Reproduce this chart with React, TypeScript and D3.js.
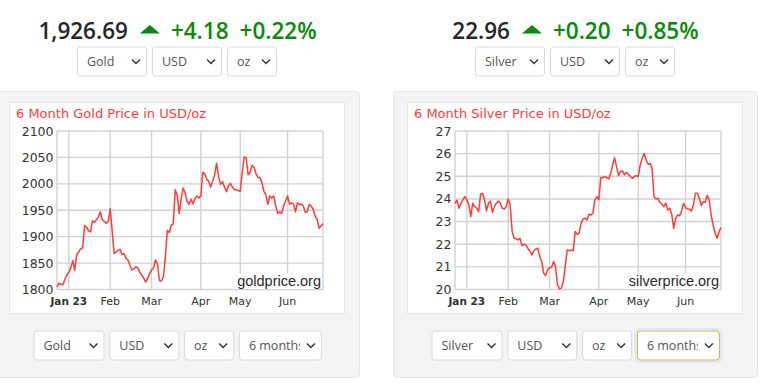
import React, { useLayoutEffect, useRef, useState } from "react";
import * as d3 from "d3";

// daily closes, Dec 22 -> late Jun (trading days)
const goldPrices = [
  1805, 1812, 1810, 1809, 1819, 1827, 1833, 1841, 1855, 1836,
  1866, 1871, 1877, 1879, 1921, 1918, 1911, 1909, 1930, 1927,
  1932, 1937, 1947, 1932, 1929, 1925, 1929, 1953, 1911, 1868,
  1871, 1874, 1876, 1866, 1868, 1859, 1856, 1846, 1837, 1839,
  1843, 1841, 1833, 1827, 1822, 1814, 1821, 1830, 1837, 1841,
  1856, 1848, 1817, 1816, 1824, 1861, 1912, 1908, 1922, 1924,
  1989, 1979, 1944, 1971, 1992, 1983, 1967, 1961, 1971, 1962,
  1972, 1977, 1973, 1977, 2022, 2019, 2008, 2005, 1994, 2005,
  2017, 2039, 2014, 1999, 2004, 1994, 1985, 1996, 2001, 1994,
  1989, 1989, 1987, 1986, 2021, 2051, 2049, 2017, 2022, 2035,
  2031, 2019, 2012, 2012, 2002, 1986, 1979, 1961, 1977, 1973,
  1977, 1958, 1944, 1947, 1944, 1958, 1967, 1977, 1961, 1964,
  1962, 1947, 1964, 1961, 1962, 1958, 1946, 1947, 1961, 1958,
  1952, 1939, 1933, 1916, 1920, 1925,
];

const silverPrices = [
  23.81, 23.94, 23.59, 23.81, 23.96, 24.1, 23.96, 23.74, 23.22, 23.81,
  23.66, 23.59, 23.44, 24.21, 24.25, 23.96, 23.47, 23.81, 23.91, 23.41,
  23.66, 23.81, 23.91, 23.81, 23.59, 23.56, 23.66, 24.0, 23.74, 22.56,
  22.26, 22.24, 22.19, 22.26, 21.94, 22.0, 21.97, 21.82, 21.68, 21.53,
  21.71, 21.79, 21.82, 21.46, 21.24, 20.72, 20.62, 20.87, 20.97, 20.97,
  21.24, 21.01, 20.21, 20.03, 20.06, 20.35, 21.09, 21.75, 21.71, 21.75,
  21.71, 22.56, 22.44, 22.49, 22.93, 23.12, 23.15, 23.07, 23.32, 23.29,
  23.37, 23.96, 24.1, 23.96, 24.94, 24.94, 24.99, 24.94, 24.88, 25.13,
  25.5, 25.82, 25.43, 25.03, 25.21, 25.24, 25.06, 25.18, 25.09, 24.99,
  24.91, 24.99, 25.03, 24.99, 25.5, 25.79, 26.01, 25.72, 25.53, 25.57,
  25.35, 24.1, 24.0, 24.03, 23.85, 23.76, 23.66, 23.81, 23.51, 23.59,
  23.32, 22.71, 23.15, 23.29, 23.26, 23.47, 23.81, 23.62, 23.56, 23.56,
  23.47, 23.74, 24.25, 24.25, 24.03, 23.71, 23.88, 23.85, 24.15, 23.96,
  23.29, 22.85, 22.49, 22.26, 22.56, 22.74,
];

const monthLabels = ["Jan 23", "Feb", "Mar", "Apr", "May", "Jun"];
const monthIdx = [6, 27, 48, 73, 93, 117];

const goldTicks = [1800, 1850, 1900, 1950, 2000, 2050, 2100];
const silverTicks = [20, 21, 22, 23, 24, 25, 26, 27];

const goldQuote = ["1,926.69", "+4.18", "+0.22%"];
const silverQuote = ["22.96", "+0.20", "+0.85%"];

const goldMenus = ["Gold", "USD", "oz"];
const silverMenus = ["Silver", "USD", "oz"];
const periodLabel = "6 months";

const RED = "#ff3b3b";
const GREEN = "#0a8a0a";
const GRID = "#d2d2d2";
const OPEN = "'Open Sans', 'Noto Sans', sans-serif";
const DEJAVU = "'DejaVu Sans', Verdana, sans-serif";
const ARIAL = "'Liberation Sans', Arial, sans-serif";

function Select({ x, y, w, label, focus = false, clipId }) {
  const h = 30;
  const cx = x + w - 11;
  const cy = y + h / 2;
  return (
    <g>
      {focus && (
        <rect x={x - 1.5} y={y - 1.5} width={w + 3} height={h + 3} rx={4.5}
          fill="none" stroke="#dce8f6" strokeWidth={2} />
      )}
      <rect x={x + 0.5} y={y + 0.5} width={w - 1} height={h - 1} rx={3}
        fill="#fff" stroke={focus ? "#cfae55" : "#dadada"} />
      <clipPath id={clipId}>
        <rect x={x} y={y} width={w - 22} height={h} />
      </clipPath>
      <text x={x + 10} y={y + 19.5} fontFamily={OPEN} fontSize={12.5} fill="#555"
        clipPath={`url(#${clipId})`}>{label}</text>
      <path d={`M${cx - 4},${cy - 2} L${cx},${cy + 2} L${cx + 4},${cy - 2}`}
        fill="none" stroke="#333" strokeWidth={1.4} />
    </g>
  );
}

function Quote({ cx, values }) {
  const r0 = useRef(null);
  const r1 = useRef(null);
  const r2 = useRef(null);
  const [w, setW] = useState([87, 57, 77]);
  useLayoutEffect(() => {
    const len = r => (r.current ? r.current.getComputedTextLength() : 0);
    setW([len(r0), len(r1), len(r2)]);
  }, []);
  const total = w[0] + 12 + 20 + 11 + w[1] + 11 + w[2];
  const x0 = cx - total / 2;
  const tx = x0 + w[0] + 12;
  const x1 = tx + 20 + 11;
  const x2 = x1 + w[1] + 11;
  const base = 39;
  const style = { fontFamily: OPEN, fontSize: 22.5, fontWeight: 600 };
  return (
    <g>
      <text ref={r0} x={x0} y={base} fill="#262626" style={style}>{values[0]}</text>
      <path d={`M${tx},33.5 L${tx + 20},33.5 L${tx + 10},25 Z`} fill={GREEN} />
      <text ref={r1} x={x1} y={base} fill={GREEN} style={style}>{values[1]}</text>
      <text ref={r2} x={x2} y={base} fill={GREEN} style={style}>{values[2]}</text>
    </g>
  );
}

function Watermark({ right, bottom, label }) {
  const ref = useRef(null);
  const [w, setW] = useState(84);
  useLayoutEffect(() => {
    if (ref.current) setW(ref.current.getComputedTextLength());
  }, []);
  return (
    <g>
      <rect x={right - w - 2} y={bottom - 16} width={w + 2} height={15.5} fill="#fff" />
      <text ref={ref} x={right} y={bottom - 4} textAnchor="end"
        fontFamily={ARIAL} fontSize={14.5} fill="#2b2b2b">{label}</text>
    </g>
  );
}

function PricePanel({ ox, quote, menus, title, data, ticks, site, focusPeriod, id }) {
  const left = ox + 57, right = ox + 323, top = 131, bottom = 289.5;

  const x = d3.scaleLinear().domain([0, data.length - 1]).range([left, right]);
  const y = d3.scaleLinear().domain(d3.extent(ticks)).range([bottom, top]);
  const line = d3.line().x((d, i) => x(i)).y(d => y(d));

  const topW = [70, 70, 50];
  const botW = [71, 70, 50, 83];
  const topX = ox + 77;
  const botX = ox + 33.5;

  return (
    <g>
      <rect x={ox - 4.5} y={91.5} width={364} height={286} rx={4}
        fill="#f4f4f4" stroke="#e5e5e5" />
      <Quote cx={ox + 177.5} values={quote} />
      {menus.map((m, i) => (
        <Select key={m} x={topX + d3.sum(topW.slice(0, i)) + i * 5} y={46.5}
          w={topW[i]} label={m} clipId={`${id}-t${i}`} />
      ))}

      <rect x={ox + 9.5} y={102.5} width={335} height={211} fill="#fff" stroke="#e6e6e6" />
      <text x={ox + 16} y={118} fontFamily={DEJAVU} fontSize={13} fill={RED}>{title}</text>

      {ticks.map(t => (
        <line key={t} x1={left} x2={right} y1={y(t)} y2={y(t)} stroke={GRID} strokeWidth={1.4} />
      ))}
      {monthIdx.map(i => (
        <line key={i} x1={x(i)} x2={x(i)} y1={top} y2={bottom} stroke={GRID} strokeWidth={1.4} />
      ))}
      <line x1={left} x2={left} y1={top} y2={bottom} stroke={GRID} strokeWidth={1.4} />
      <line x1={right} x2={right} y1={top} y2={bottom} stroke={GRID} strokeWidth={1.4} />

      <Watermark right={right - 2} bottom={bottom} label={site} />

      <path d={line(data)} fill="none" stroke={RED} strokeWidth={1.5} strokeLinejoin="round" />

      {ticks.map(t => (
        <text key={t} x={left - 3.5} y={y(t)} dy="0.36em" textAnchor="end"
          fontFamily={DEJAVU} fontSize={12.5} fill="#333">{t}</text>
      ))}
      {monthLabels.map((m, i) => (
        <text key={m} x={x(monthIdx[i])} y={305} textAnchor="middle" fontFamily={DEJAVU}
          fontSize={i === 0 ? 10.5 : 11} fontWeight={i === 0 ? "bold" : "normal"}
          fill="#333">{m}</text>
      ))}

      {[...menus, periodLabel].map((m, i) => (
        <Select key={m} x={botX + d3.sum(botW.slice(0, i)) + i * 4.8} y={330.5}
          w={botW[i]} label={m} focus={focusPeriod && i === 3} clipId={`${id}-b${i}`} />
      ))}
    </g>
  );
}

export default function App() {
  const width = 760;
  const height = 385;
  return (
    <svg width={width} height={height}
      style={{ position: "absolute", left: 0, top: 0, background: "#fff" }}>
      <PricePanel ox={0} id="gold" quote={goldQuote} menus={goldMenus}
        title="6 Month Gold Price in USD/oz" data={goldPrices} ticks={goldTicks}
        site="goldprice.org" focusPeriod={false} />
      <PricePanel ox={398} id="silver" quote={silverQuote} menus={silverMenus}
        title="6 Month Silver Price in USD/oz" data={silverPrices} ticks={silverTicks}
        site="silverprice.org" focusPeriod={true} />
    </svg>
  );
}
